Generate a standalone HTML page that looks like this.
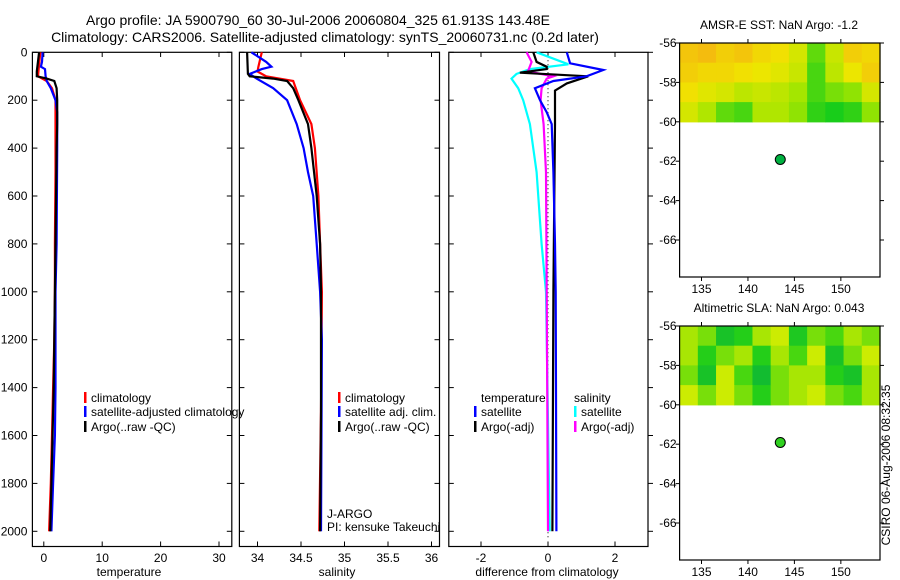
<!DOCTYPE html>
<html><head><meta charset="utf-8"><style>
html,body{margin:0;padding:0;background:#fff;}
svg{display:block;font-family:"Liberation Sans",sans-serif;}
</style></head><body>
<svg id="fig" width="900" height="580" viewBox="0 0 900 580">
<text x="318" y="25" font-size="14" text-anchor="middle">Argo profile: JA 5900790_60 30-Jul-2006 20060804_325 61.913S 143.48E</text>
<text x="325" y="42" font-size="14" text-anchor="middle">Climatology: CARS2006. Satellite-adjusted climatology: synTS_20060731.nc (0.2d later)</text>
</svg>
<script>
// ---- data ----
const depthTicks = [0,200,400,600,800,1000,1200,1400,1600,1800,2000];
const tempTicks = [0,10,20,30];
const salTicks = [34,34.5,35,35.5,36];
const diffTicks = [-2,0,2];
const latTicks = [-56,-58,-60,-62,-64,-66];
const lonTicks = [135,140,145,150];

const tClimD = [0,50,100,120,150,200,300,500,800,1000,1200,1400,1600,1800,2000];
const tClimV = [-0.6,-0.8,-1.0,0.5,1.4,2.0,2.0,2.0,1.9,1.9,1.8,1.6,1.4,1.2,0.9];
const tSatD = [0,40,60,70,100,120,150,200,250,400,800,1000,1400,1600,1800,2000];
const tSatV = [-0.2,-0.3,-0.5,0.2,0.3,0.5,1.2,2.0,2.3,2.3,2.2,2.0,2.0,1.9,1.6,1.3];
const tArgD = [0,80,100,110,120,150,200,300,400,800,1000,1400,1800,2000];
const tArgV = [-0.8,-1.2,-1.2,0.5,1.8,2.2,2.3,2.3,2.2,2.0,1.9,1.7,1.3,1.1];

const sClimD = [0,60,80,100,120,150,200,300,400,600,800,1000,1500,2000];
const sClimV = [34.05,34.01,34.0,34.1,34.41,34.44,34.49,34.62,34.66,34.7,34.72,34.74,34.73,34.71];
const sArgD = [0,90,100,110,120,150,200,300,400,600,800,1000,1500,2000];
const sArgV = [33.88,33.89,33.91,34.18,34.34,34.41,34.47,34.58,34.62,34.68,34.72,34.73,34.73,34.72];
const sSatD = [0,40,60,70,90,110,150,200,300,400,500,600,800,1000,1200,2000];
const sSatV = [33.93,34.1,34.16,34.05,33.91,33.99,34.18,34.34,34.45,34.53,34.58,34.64,34.68,34.72,34.74,34.73];

const dTSatD = [0,46,74,100,120,150,200,250,300,500,800,1000,2000];
const dTSatV = [0.56,0.66,1.65,1.15,0.16,-0.39,-0.24,-0.04,0.11,0.16,0.21,0.23,0.25];
const dTArgD = [0,40,60,70,85,100,130,160,200,300,1000,2000];
const dTArgV = [-0.44,-0.34,-0.04,-0.04,-0.84,1.2,0.56,0.21,0.21,0.21,0.16,0.13];
const dSSatD = [0,50,70,90,110,150,200,300,500,800,1000,2000];
const dSSatV = [-0.34,0.61,-0.54,-0.94,-1.09,-0.89,-0.74,-0.54,-0.34,-0.19,-0.06,0.05];
const dSArgD = [0,40,80,100,110,150,200,300,500,1000,2000];
const dSArgV = [-0.64,-0.49,-0.6,0.16,-0.04,-0.19,-0.22,-0.13,-0.06,-0.04,0.0];

const sstRows = [
 [0.85,0.9,0.8,0.85,0.75,0.7,0.55,0.2,0.5,0.8,0.75],
 [0.8,0.75,0.75,0.7,0.65,0.6,0.5,0.15,0.45,0.65,0.8],
 [0.7,0.6,0.55,0.45,0.5,0.45,0.35,0.15,0.25,0.3,0.55],
 [0.55,0.4,0.2,0.15,0.4,0.4,0.3,0.1,0.05,0.1,0.3]];
const slaRows = [
 [0.6,0.5,0.2,0.3,0.6,0.7,0.25,0.5,0.4,0.6,0.5],
 [0.6,0.3,0.5,0.6,0.3,0.6,0.4,0.7,0.2,0.5,0.7],
 [0.5,0.2,0.7,0.4,0.15,0.5,0.6,0.6,0.3,0.2,0.6],
 [0.7,0.5,0.7,0.5,0.3,0.5,0.6,0.7,0.5,0.4,0.6]];
const argoLon = 143.48, argoLat = -61.913;

// ---- helpers ----
const NS="http://www.w3.org/2000/svg";
const svg=document.getElementById('fig');
function mk(tag,attrs,parent){const e=document.createElementNS(NS,tag);for(const k in attrs)e.setAttribute(k,attrs[k]);(parent||svg).appendChild(e);return e;}
function txt(x,y,s,size,anchor,parent){const t=mk('text',{x:x,y:y,'font-size':size,'text-anchor':anchor||'start'},parent);t.textContent=s;return t;}
const yD = d => 52.3 + d*0.2395;
const xT = v => 43.8 + v*5.84;
const xS = v => 257.5 + (v-34)*87;
const xDf = v => 548 + v*33.5;

function panel(name,x0,x1,ticks,xf,label,lx,yLabels,rightOut){
  const g=mk('g',{});
  
  
  const b=mk('rect',{x:x0,y:52.3,width:x1-x0,height:546.5-52.3,fill:'none',stroke:'#000','stroke-width':1.2},g);
  
  
  ticks.forEach(v=>{const x=xf(v);
    mk('line',{x1:x,x2:x,y1:52.3,y2:57,stroke:'#000'},g);
    mk('line',{x1:x,x2:x,y1:546.5,y2:541.5,stroke:'#000'},g);
    const t=txt(x,562,String(v),12,'middle',g);
    
    
  });
  depthTicks.forEach(d=>{const y=yD(d);
    mk('line',{x1:x0,x2:x0+5,y1:y,y2:y,stroke:'#000'},g);
    if(rightOut) mk('line',{x1:x1,x2:x1+5,y1:y,y2:y,stroke:'#000'},g);
    else mk('line',{x1:x1,x2:x1-5,y1:y,y2:y,stroke:'#000'},g);
    if(yLabels){const t=txt(x0-5,y+4,String(d),12,'end',g);
      
      }
  });
  const l=txt(lx,576,label,12,'middle',g);
  
  
  return g;
}
function line(D,V,xf,color,name){
  const p=mk('polyline',{points:D.map((d,i)=>xf(V[i]).toFixed(1)+','+yD(d).toFixed(1)).join(' '),fill:'none',stroke:color,'stroke-width':2.2});
  
  
}
function legend(x,y,color,label){
  const g=mk('g',{});
  
  
  if(color) mk('rect',{x:x,y:y-9,width:2.5,height:11,fill:color},g);
  txt(x+7,y+1,label,12,'start',g);
}

panel('temperature-panel',32.4,231.8,tempTicks,xT,'temperature',129,true,false);
panel('salinity-panel',239.4,439.5,salTicks,xS,'salinity',337,false,false);
panel('difference-panel',448.8,648,diffTicks,xDf,'difference from climatology',547,false,true);

line(tClimD,tClimV,xT,'#f00','temp-climatology-line');
line(tSatD,tSatV,xT,'#00f','temp-satellite-line');
line(tArgD,tArgV,xT,'#000','temp-argo-line');
line(sClimD,sClimV,xS,'#f00','sal-climatology-line');
line(sSatD,sSatV,xS,'#00f','sal-satellite-line');
line(sArgD,sArgV,xS,'#000','sal-argo-line');
const zl=mk('line',{x1:xDf(0),x2:xDf(0),y1:yD(0),y2:yD(2000)+6,stroke:'#000','stroke-dasharray':'1,3'});


line(dSSatD,dSSatV,xDf,'#0ff','diff-sal-satellite-line');
line(dSArgD,dSArgV,xDf,'#f0f','diff-sal-argo-line');
line(dTArgD,dTArgV,xDf,'#000','diff-temp-argo-line');
line(dTSatD,dTSatV,xDf,'#00f','diff-temp-satellite-line');

legend(84,401,'#f00','climatology');
legend(84,415,'#00f','satellite-adjusted climatology');
legend(84,430,'#000','Argo(..raw -QC)');
legend(338,401,'#f00','climatology');
legend(338,415,'#00f','satellite adj. clim.');
legend(338,430,'#000','Argo(..raw -QC)');
legend(474,401,null,'temperature');
legend(474,415,'#00f','satellite');
legend(474,430,'#000','Argo(-adj)');
legend(567,401,null,'salinity');
legend(574,415,'#0ff','satellite');
legend(574,430,'#f0f','Argo(-adj)');
const ja=txt(327,518,'J-ARGO',12,'start');  
const pi=txt(327,531,'PI: kensuke Takeuchi',12,'start');  

// ---- maps ----
function lerp(a,b,t){return a.map((v,i)=>Math.round(v+(b[i]-v)*t));}
function cmapSST(v){const s=[[0,200,30],[160,230,0],[240,230,0],[245,170,20]];const p=v*3,i=Math.min(2,Math.floor(p));return 'rgb('+lerp(s[i],s[i+1],p-i).join(',')+')';}
function cmapSLA(v){const s=[[0,170,70],[40,210,20],[200,235,0],[240,240,20]];const p=v*3,i=Math.min(2,Math.floor(p));return 'rgb('+lerp(s[i],s[i+1],p-i).join(',')+')';}
function map(name,top,title,rows,cmap,dotColor){
  const L=679.6,R=880,B=top+234;
  const lonX=lo=>701.5+(lo-135)*9.29;
  const latY=la=>top+(-56-la)*19.7;
  const g=mk('g',{});
  
  
  const t=txt(779,top-14,title,12,'middle',g);
  
  
  const nc=rows[0].length, cw=(R-L)/nc;
  rows.forEach((row,r)=>row.forEach((v,c)=>{
    const cell=mk('rect',{x:(L+c*cw).toFixed(2),y:latY(-56-r).toFixed(2),width:(cw+0.6).toFixed(2),height:(latY(-57-r)-latY(-56-r)+0.6).toFixed(2),fill:cmap(v)},g);
    
    
  }));
  mk('rect',{x:L,y:top,width:R-L,height:B-top,fill:'none',stroke:'#000','stroke-width':1.2},g);
  latTicks.forEach(la=>{const y=latY(la);
    mk('line',{x1:L,x2:L-4,y1:y,y2:y,stroke:'#000'},g);
    mk('line',{x1:R,x2:R+4,y1:y,y2:y,stroke:'#000'},g);
    const tl=txt(L-3,y+4,String(la),12,'end',g);
    
    
  });
  lonTicks.forEach(lo=>{const x=lonX(lo);
    mk('line',{x1:x,x2:x,y1:top,y2:top-4,stroke:'#000'},g);
    mk('line',{x1:x,x2:x,y1:B,y2:B+4,stroke:'#000'},g);
    const tl=txt(x,B+16,String(lo),12,'middle',g);
    
    
  });
  const d=mk('circle',{cx:lonX(argoLon),cy:latY(argoLat),r:5,fill:dotColor,stroke:'#000','stroke-width':1},g);
  
  
}
map('sst-map',43,'AMSR-E SST: NaN Argo: -1.2',sstRows,cmapSST,'#00b040');
map('sla-map',326,'Altimetric SLA: NaN Argo: 0.043',slaRows,cmapSLA,'#30d020');
const cs=txt(0,0,'CSIRO 06-Aug-2006 08:32:35',12,'middle');
cs.setAttribute('transform','translate(890,465) rotate(-90)');


</script>
</body></html>
